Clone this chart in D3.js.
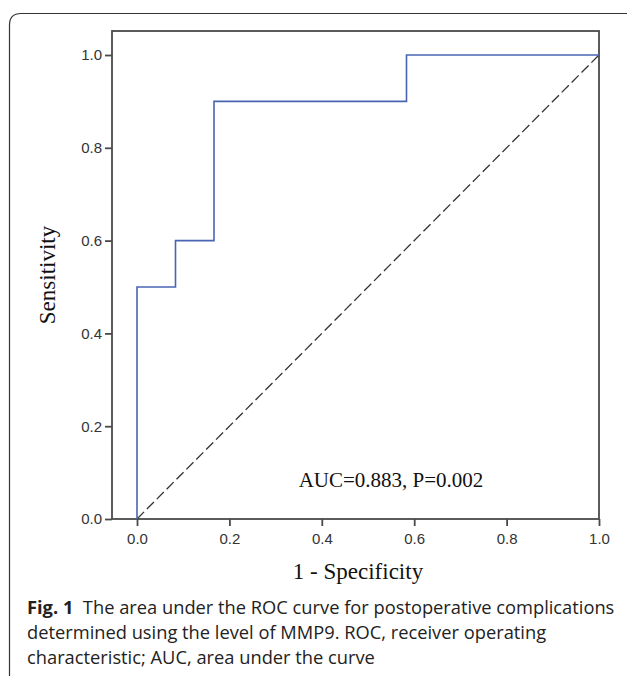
<!doctype html>
<html>
<head>
<meta charset="utf-8">
<script src="https://cdn.jsdelivr.net/npm/d3@7"></script>
<style>
    html, body { margin: 0; padding: 0; background: #fff; }
    svg { display: block; }
</style>
</head>
<body>
<div id="viz"></div>
<script>
    // ROC points (1 - specificity, sensitivity)
    var fpr = [0, 0, 1/12, 1/12, 2/12, 2/12, 7/12, 7/12, 1];
    var tpr = [0, 0.5, 0.5, 0.6, 0.6, 0.9, 0.9, 1.0, 1.0];
    var tickValues = [0, 0.2, 0.4, 0.6, 0.8, 1.0];
    var aucLabel = "AUC=0.883, P=0.002";
    var xTitle = "1 - Specificity";
    var yTitle = "Sensitivity";
    var captionLines = [
        ["Fig. 1", "  The area under the ROC curve for postoperative complications"],
        ["", "determined using the level of MMP9. ROC, receiver operating"],
        ["", "characteristic; AUC, area under the curve"]
    ];

    var W = 627, H = 676;
    var svg = d3.select("#viz").append("svg")
        .attr("width", W)
        .attr("height", H);

    // outer figure box (rounded top-left corner)
    svg.append("path")
        .attr("d", "M9.5," + H + " L9.5,25 Q9.5,13.5 21,13.5 L" + W + ",13.5")
        .attr("fill", "none")
        .attr("stroke", "#333")
        .attr("stroke-width", 1.2);

    // frame and scales
    var frame = { left: 112, right: 599, top: 31, bottom: 519 };
    var x = d3.scaleLinear().domain([0, 1]).range([137, 599]);
    var y = d3.scaleLinear().domain([0, 1]).range([519, 55]);

    var axisColor = "#4a4a4a";

    svg.append("rect")
        .attr("x", frame.left)
        .attr("y", frame.top)
        .attr("width", frame.right - frame.left)
        .attr("height", frame.bottom - frame.top)
        .attr("fill", "none")
        .attr("stroke", axisColor)
        .attr("stroke-width", 1.8);

    var xAxis = svg.append("g")
        .attr("transform", "translate(0," + frame.bottom + ")")
        .call(d3.axisBottom(x).tickValues(tickValues).tickFormat(d3.format(".1f")).tickSize(7).tickPadding(7));

    var yAxis = svg.append("g")
        .attr("transform", "translate(" + frame.left + ",0)")
        .call(d3.axisLeft(y).tickValues(tickValues).tickFormat(d3.format(".1f")).tickSize(7).tickPadding(3));

    [xAxis, yAxis].forEach(function (g) {
        g.attr("font-size", null).attr("font-family", null);
        g.select(".domain").remove();
        g.selectAll(".tick line").attr("stroke", axisColor).attr("stroke-width", 1.8);
        g.selectAll(".tick text")
            .attr("fill", "#333")
            .style("font-family", "'Liberation Sans', Arial, sans-serif")
            .style("font-size", "15px");
    });

    // reference diagonal
    svg.append("line")
        .attr("x1", x(0)).attr("y1", y(0))
        .attr("x2", x(1)).attr("y2", y(1))
        .attr("stroke", "#333")
        .attr("stroke-width", 1.3)
        .attr("stroke-dasharray", "10,4");

    // ROC step curve
    var line = d3.line()
        .x(function (d) { return x(d[0]); })
        .y(function (d) { return y(d[1]); });

    svg.append("path")
        .datum(d3.zip(fpr, tpr))
        .attr("d", line)
        .attr("fill", "none")
        .attr("stroke", "#4a64b4")
        .attr("stroke-width", 1.6);

    var serif = "'Liberation Serif', 'Times New Roman', serif";

    svg.append("text")
        .attr("x", 391)
        .attr("y", 487)
        .attr("text-anchor", "middle")
        .style("font-family", serif)
        .style("font-size", "21px")
        .attr("fill", "#111")
        .text(aucLabel);

    svg.append("text")
        .attr("x", 358)
        .attr("y", 579)
        .attr("text-anchor", "middle")
        .style("font-family", serif)
        .style("font-size", "23px")
        .attr("fill", "#111")
        .text(xTitle);

    svg.append("text")
        .attr("transform", "translate(55,275) rotate(-90)")
        .attr("text-anchor", "middle")
        .style("font-family", serif)
        .style("font-size", "23px")
        .attr("fill", "#111")
        .text(yTitle);

    // caption
    var cap = svg.append("g")
        .style("font-family", "'Open Sans', sans-serif")
        .style("font-size", "18.3px")
        .attr("fill", "#222");

    captionLines.forEach(function (l, i) {
        var t = cap.append("text")
            .attr("x", 27)
            .attr("y", 614 + i * 25)
            .attr("xml:space", "preserve");
        if (l[0]) {
            t.append("tspan").style("font-weight", "bold").text(l[0]);
        }
        t.append("tspan").text(l[1]);
    });
</script>
</body>
</html>
